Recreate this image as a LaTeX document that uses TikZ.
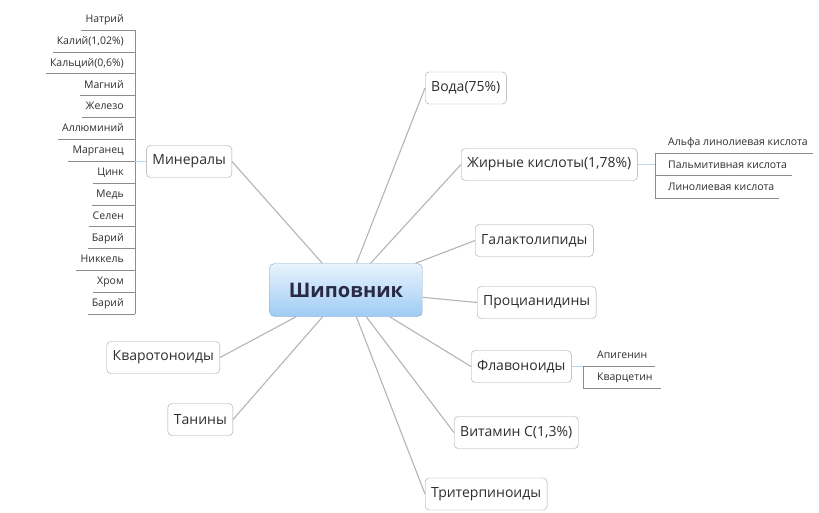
\documentclass[tikz,border=0pt]{standalone}
\usepackage{fontspec}
\setmainfont{Open Sans}
\definecolor{txtgray}{HTML}{2E2E2E}
\definecolor{boxgray}{HTML}{A4A4A4}
\definecolor{linegray}{HTML}{B4B4B4}
\definecolor{ulgray}{HTML}{8C8C8C}
\definecolor{subblue}{HTML}{BCD8F0}
\definecolor{roottop}{HTML}{E8F3FD}
\definecolor{rootbot}{HTML}{9ECCF4}
\definecolor{rootline}{HTML}{7FA6CC}
\begin{document}
\begin{tikzpicture}[x=1pt,y=-1pt,
  root/.style={draw=rootline, rounded corners=5pt, top color=roottop, bottom color=rootbot,
    minimum width=153pt, minimum height=53pt, font=\fontsize{20}{24}\bfseries, text=txtgray!90!blue},
  topic/.style={draw=boxgray, rounded corners=4pt, fill=white, minimum height=32pt,
    inner xsep=6pt, font=\fontsize{14}{16}\selectfont, text=txtgray},
  leaf/.style={inner xsep=0pt, inner ysep=2pt, text height=7pt, text depth=5.5pt,
    font=\fontsize{10.5}{12}\selectfont, text=txtgray},
  branch/.style={draw=linegray, line width=1.1pt},
  sub/.style={draw=subblue, line width=1.6pt},
  uline/.style={draw=ulgray, line width=0.9pt}]
\useasboundingbox (0,0) rectangle (819,512);

% centre
\node[root] (rose) at (346,290) {Шиповник};

% main topics
\node[topic, anchor=west] (voda) at (425,88) {Вода(75\%)};
\node[topic, anchor=west] (fat) at (461,164.5) {Жирные кислоты(1,78\%)};
\node[topic, anchor=west] (galakto) at (475,240.5) {Галактолипиды};
\node[topic, anchor=west] (procy) at (477,302.5) {Процианидины};
\node[topic, anchor=west] (flav) at (471,366.5) {Флавоноиды};
\node[topic, anchor=west] (vitc) at (454,432.5) {Витамин С(1,3\%)};
\node[topic, anchor=west] (triterp) at (425,494) {Тритерпиноиды};
\node[topic, anchor=east] (miner) at (232,161.5) {Минералы};
\node[topic, anchor=east] (kvaro) at (220,357.5) {Кваротоноиды};
\node[topic, anchor=east] (tanin) at (233,419.5) {Танины};

\foreach \t in {voda,fat,galakto,procy,flav,vitc,triterp}
  \draw[branch] (rose) -- (\t.west);
\foreach \t in {miner,kvaro,tanin}
  \draw[branch] (rose) -- (\t.east);

% minerals
\coordinate (mx) at (135,0);
\foreach \name [count=\i] in {Натрий,{Калий(1,02\%)},{Кальций(0,6\%)},Магний,Железо,Аллюминий,
    Марганец,Цинк,Медь,Селен,Барий,Никкель,Хром,Барий} {
  \node[leaf, anchor=base east] (min\i) at (124,{22.5+21.85*(\i-1)}) {\name};
  \draw[uline] ([xshift=-4pt]min\i.south west) -- (min\i.south west -| mx);
}
\draw[uline] (min1.south -| mx) -- (min14.south -| mx);
\draw[sub] (miner.west) -- (miner.west -| mx);

% fatty acids
\coordinate (fx) at (655,0);
\foreach \name [count=\i] in {Альфа линолиевая кислота,Пальмитивная кислота,Линолиевая кислота} {
  \node[leaf, anchor=base west] (fa\i) at (668,{145.5+22.5*(\i-1)}) {\name};
  \draw[uline] (fa\i.south west -| fx) -- ([xshift=5pt]fa\i.south east);
}
\draw[uline] (fa1.south -| fx) -- (fa3.south -| fx);
\draw[sub] (fat.east) -- (fat.east -| fx);

% flavonoids
\coordinate (vx) at (583,0);
\foreach \name [count=\i] in {Апигенин,Кварцетин} {
  \node[leaf, anchor=base west] (fl\i) at (597,{358.5+22*(\i-1)}) {\name};
  \draw[uline] (fl\i.south west -| vx) -- ([xshift=8pt]fl\i.south east);
}
\draw[uline] (fl1.south -| vx) -- (fl2.south -| vx);
\draw[sub] (flav.east) -- (flav.east -| vx);
\end{tikzpicture}
\end{document}
